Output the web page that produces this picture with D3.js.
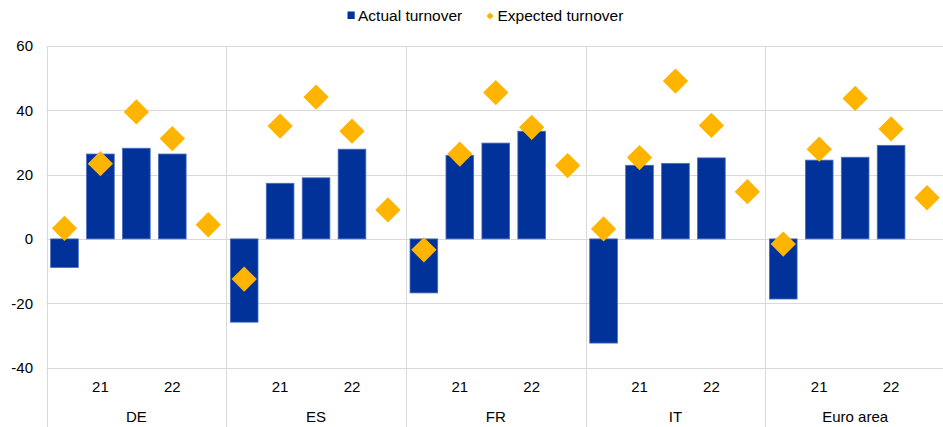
<!DOCTYPE html>
<html>
<head>
<meta charset="utf-8">
<script src="https://cdn.jsdelivr.net/npm/d3@7"></script>
<style>
  html, body { margin: 0; padding: 0; background: #fff; }
  svg { display: block; font-family: "Liberation Sans", Arial, sans-serif; }
</style>
</head>
<body>
<svg id="chart" width="943" height="427"></svg>
<script>
// Countries and the five periods shown for each of them
const countries = ["DE", "ES", "FR", "IT", "Euro area"];
const periods = ["p1", "p2", "p3", "p4", "p5"];
const periodLabels = ["", "21", "", "22", ""];

// Actual turnover (bars, first four periods) per country
const actualDE = [-8.9, 26.4, 28.2, 26.4];
const actualES = [-25.9, 17.3, 19.0, 27.9];
const actualFR = [-16.8, 26.0, 29.8, 33.5];
const actualIT = [-32.4, 22.9, 23.5, 25.2];
const actualEA = [-18.7, 24.5, 25.4, 29.1];

// Expected turnover (diamonds, all five periods) per country
const expectedDE = [3.3, 23.4, 39.5, 31.2, 4.4];
const expectedES = [-12.5, 35.1, 44.1, 33.5, 9.0];
const expectedFR = [-3.4, 26.4, 45.5, 34.7, 22.8];
const expectedIT = [3.1, 25.3, 49.1, 35.3, 14.7];
const expectedEA = [-1.6, 27.9, 43.7, 34.2, 12.8];

const yTicks = [-40, -20, 0, 20, 40, 60];
const legendLabels = ["Actual turnover", "Expected turnover"];

const actual = [actualDE, actualES, actualFR, actualIT, actualEA];
const expected = [expectedDE, expectedES, expectedFR, expectedIT, expectedEA];

const blue = "#003299";
const gold = "#FFB400";
const grid = "#d9d9d9";

const svg = d3.select("#chart");
const W = 943, H = 427;
const plotL = 46.5, plotR = 945, plotT = 46, plotB = 367.5;

const y = d3.scaleLinear().domain([-40, 60]).range([plotB, plotT]);
const xGroup = d3.scaleBand().domain(countries).range([plotL, plotR]).padding(0);
const xSlot = d3.scaleBand().domain(periods).range([0, xGroup.bandwidth()]).padding(0);
const barW = xSlot.bandwidth() * 0.77;

// Horizontal gridlines
svg.append("g")
  .selectAll("line")
  .data(yTicks)
  .join("line")
  .attr("x1", plotL).attr("x2", plotR)
  .attr("y1", d => Math.round(y(d)) + 0.5).attr("y2", d => Math.round(y(d)) + 0.5)
  .attr("stroke", grid).attr("stroke-width", 1);

// Vertical separators between countries, running through the label area
const seps = countries.map(c => xGroup(c));
svg.append("g")
  .selectAll("line")
  .data(seps)
  .join("line")
  .attr("x1", d => Math.round(d) + 0.5).attr("x2", d => Math.round(d) + 0.5)
  .attr("y1", plotT).attr("y2", H)
  .attr("stroke", grid).attr("stroke-width", 1);

// Y axis labels (plain hyphen for negatives)
const yAxis = d3.axisLeft(y).tickValues(yTicks).tickSize(0).tickPadding(0).tickFormat(d => String(d));
const yg = svg.append("g").attr("transform", `translate(33,0)`).call(yAxis);
yg.select(".domain").remove();
yg.selectAll("text")
  .attr("font-size", 15)
  .attr("font-family", "Liberation Sans, Arial, sans-serif")
  .attr("fill", "#000");

// Groups per country
const groups = svg.append("g")
  .selectAll("g")
  .data(countries.map((c, i) => ({ country: c, actual: actual[i], expected: expected[i] })))
  .join("g")
  .attr("transform", d => `translate(${xGroup(d.country)},0)`);

// Bars
groups.selectAll("rect")
  .data(d => d.actual.map((v, j) => ({ v, p: periods[j] })))
  .join("rect")
  .attr("x", d => xSlot(d.p) + (xSlot.bandwidth() - barW) / 2)
  .attr("width", barW)
  .attr("y", d => y(Math.max(0, d.v)))
  .attr("height", d => Math.abs(y(d.v) - y(0)))
  .attr("fill", blue)
  .attr("stroke", "#4a6cc0")
  .attr("stroke-width", 0.8);

// Diamonds
const diamond = d3.symbol().type(d3.symbolSquare).size(320);
groups.selectAll("path.exp")
  .data(d => d.expected.map((v, j) => ({ v, p: periods[j] })))
  .join("path")
  .attr("class", "exp")
  .attr("d", diamond)
  .attr("transform", d => `translate(${xSlot(d.p) + xSlot.bandwidth() / 2},${y(d.v)}) rotate(45)`)
  .attr("fill", gold);

// Period labels
groups.selectAll("text.period")
  .data(periodLabels.map((t, j) => ({ t, p: periods[j] })).filter(d => d.t))
  .join("text")
  .attr("class", "period")
  .attr("x", d => xSlot(d.p) + xSlot.bandwidth() / 2)
  .attr("y", 392)
  .attr("text-anchor", "middle")
  .attr("font-size", 15)
  .attr("fill", "#000")
  .text(d => d.t);

// Country labels
groups.append("text")
  .attr("x", xGroup.bandwidth() / 2)
  .attr("y", 422)
  .attr("text-anchor", "middle")
  .attr("font-size", 15)
  .attr("fill", "#000")
  .text(d => d.country);

// Legend
const legend = svg.append("g");
legend.append("rect")
  .attr("x", 347.5).attr("y", 11.5).attr("width", 7.2).attr("height", 7.5)
  .attr("fill", blue);
legend.append("text")
  .attr("x", 358).attr("y", 21)
  .attr("font-size", 15.5).attr("fill", "#000")
  .text(legendLabels[0]);
legend.append("path")
  .attr("d", d3.symbol().type(d3.symbolSquare).size(26))
  .attr("transform", "translate(490,16) rotate(45)")
  .attr("fill", gold);
legend.append("text")
  .attr("x", 497.5).attr("y", 21)
  .attr("font-size", 15.5).attr("fill", "#000")
  .text(legendLabels[1]);
</script>
</body>
</html>
